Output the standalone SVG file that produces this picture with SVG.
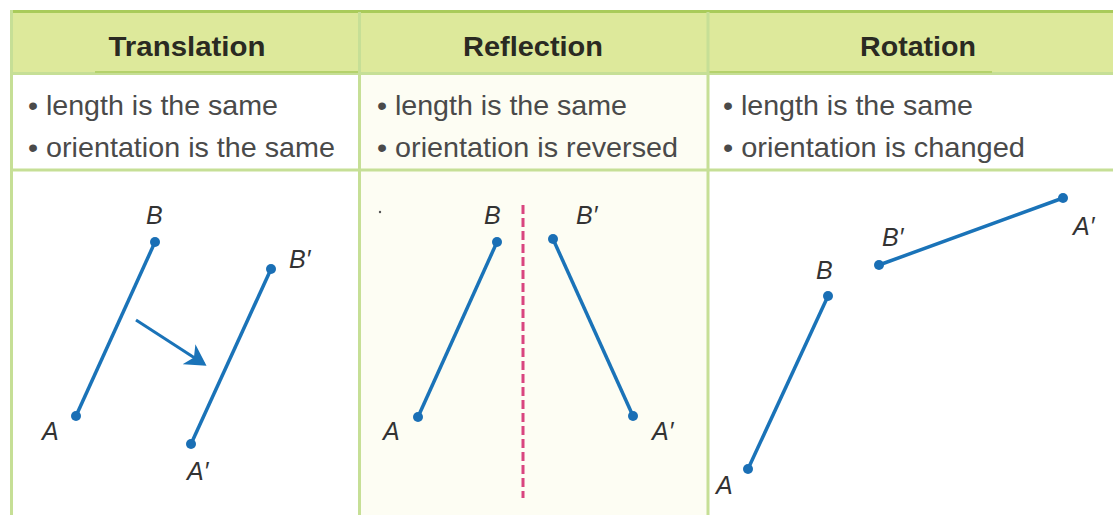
<svg xmlns="http://www.w3.org/2000/svg" width="1113" height="515" viewBox="0 0 1113 515">
<style>
.hdr{font-family:"Liberation Sans",Arial,sans-serif;font-weight:bold;font-size:28px;fill:#2a2a22;text-anchor:middle}
.bul{font-family:"Liberation Sans",Arial,sans-serif;font-size:28px;fill:#4a4a4a}
.lbl{font-family:"Liberation Sans",Arial,sans-serif;font-style:italic;font-size:25px;fill:#333}
.seg{stroke:#1a73b8;stroke-width:3.5;fill:none}
.dot{fill:#1a6fb5}
.grid{stroke:#c6df96;stroke-width:3;fill:none}
</style>
<defs>
<marker id="ah" markerWidth="8" markerHeight="8" refX="6" refY="4" orient="auto" markerUnits="strokeWidth">
<path d="M0,0 L7,4 L0,8 L2,4 Z" fill="#1a73b8"/>
</marker>
</defs>
<rect width="1113" height="515" fill="#ffffff"/>
<g id="table">
<rect x="12" y="12" width="1101" height="61" fill="#dde99b"/>
<rect x="361" y="75" width="346" height="440" fill="#fdfdf3"/>
<line x1="10" y1="11.5" x2="1113" y2="11.5" stroke="#a9cb5a" stroke-width="3"/>
<line x1="12" y1="73.5" x2="1113" y2="73.5" class="grid" stroke-width="4"/>
<line x1="95" y1="72" x2="358" y2="72" stroke="#b5d26c" stroke-width="2"/>
<line x1="708" y1="72" x2="992" y2="72" stroke="#b5d26c" stroke-width="2"/>
<line x1="12" y1="170" x2="1113" y2="170" class="grid" stroke-width="4"/>
<line x1="11.5" y1="10" x2="11.5" y2="515" class="grid"/>
<line x1="359.5" y1="12" x2="359.5" y2="515" class="grid"/>
<line x1="708" y1="12" x2="708" y2="515" class="grid"/>
</g>
<g id="translation">
<text class="hdr" x="187" y="56" textLength="157" lengthAdjust="spacingAndGlyphs">Translation</text>
<text class="bul" x="28" y="115" textLength="250" lengthAdjust="spacingAndGlyphs">• length is the same</text>
<text class="bul" x="28" y="157" textLength="307" lengthAdjust="spacingAndGlyphs">• orientation is the same</text>
<line class="seg" x1="76" y1="416" x2="155" y2="242"/>
<line class="seg" x1="191" y1="444" x2="271" y2="269"/>
<circle class="dot" cx="76" cy="416" r="5"/>
<circle class="dot" cx="155" cy="242" r="5"/>
<circle class="dot" cx="191" cy="444" r="5"/>
<circle class="dot" cx="271" cy="269" r="5"/>
<line x1="136" y1="320" x2="204" y2="364" stroke="#1a73b8" stroke-width="3" marker-end="url(#ah)"/>
<text class="lbl" x="146" y="224">B</text>
<text class="lbl" x="42" y="440">A</text>
<text class="lbl" x="289" y="268">B′</text>
<text class="lbl" x="187" y="480">A′</text>
</g>
<g id="reflection">
<text class="hdr" x="533" y="56" textLength="140" lengthAdjust="spacingAndGlyphs">Reflection</text>
<text class="bul" x="377" y="115" textLength="250" lengthAdjust="spacingAndGlyphs">• length is the same</text>
<text class="bul" x="377" y="157" textLength="301" lengthAdjust="spacingAndGlyphs">• orientation is reversed</text>
<line x1="523" y1="205" x2="523" y2="498" stroke="#d9457f" stroke-width="3" stroke-dasharray="9,4"/>
<line class="seg" x1="418" y1="417" x2="497" y2="242"/>
<line class="seg" x1="553" y1="239" x2="633" y2="416"/>
<circle class="dot" cx="418" cy="417" r="5"/>
<circle class="dot" cx="497" cy="242" r="5"/>
<circle class="dot" cx="553" cy="239" r="5"/>
<circle class="dot" cx="633" cy="416" r="5"/>
<circle cx="380" cy="212" r="1.2" fill="#555"/>
<text class="lbl" x="484" y="224">B</text>
<text class="lbl" x="383" y="440">A</text>
<text class="lbl" x="576" y="224">B′</text>
<text class="lbl" x="652" y="440">A′</text>
</g>
<g id="rotation">
<text class="hdr" x="918" y="56" textLength="116" lengthAdjust="spacingAndGlyphs">Rotation</text>
<text class="bul" x="723" y="115" textLength="250" lengthAdjust="spacingAndGlyphs">• length is the same</text>
<text class="bul" x="723" y="157" textLength="302" lengthAdjust="spacingAndGlyphs">• orientation is changed</text>
<line class="seg" x1="748" y1="469" x2="828" y2="296"/>
<line class="seg" x1="879" y1="265" x2="1063" y2="198"/>
<circle class="dot" cx="748" cy="469" r="5"/>
<circle class="dot" cx="828" cy="296" r="5"/>
<circle class="dot" cx="879" cy="265" r="5"/>
<circle class="dot" cx="1063" cy="198" r="5"/>
<text class="lbl" x="716" y="494">A</text>
<text class="lbl" x="816" y="279">B</text>
<text class="lbl" x="882" y="246">B′</text>
<text class="lbl" x="1073" y="235">A′</text>
</g>
</svg>
